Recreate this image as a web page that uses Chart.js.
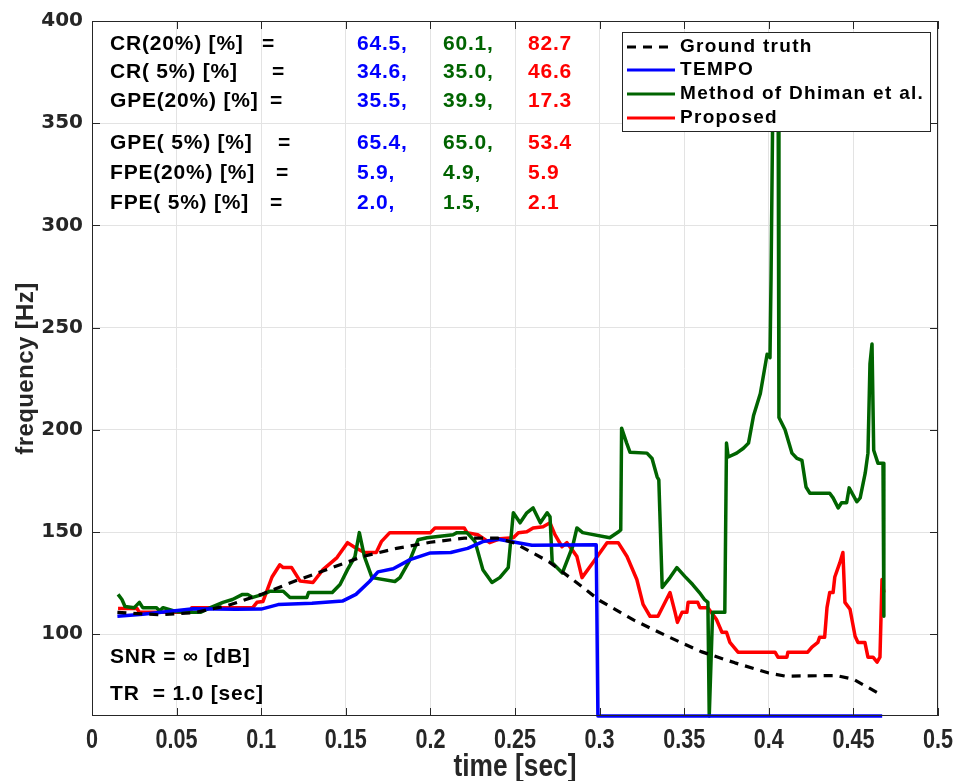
<!DOCTYPE html>
<html>
<head>
<meta charset="utf-8">
<script src="https://cdn.jsdelivr.net/npm/chart.js@4.4.0/dist/chart.umd.min.js"></script>
<style>
html, body { margin: 0; padding: 0; background: #fff; }
</style>
</head>
<body>
<canvas id="pitch" width="964" height="781"></canvas>
<script>
// axis ticks
var xTicks = [0, 0.05, 0.1, 0.15, 0.2, 0.25, 0.3, 0.35, 0.4, 0.45, 0.5];
var yTicks = [100, 150, 200, 250, 300, 350, 400];

// ground truth
var gtTime = [0.015, 0.04, 0.06, 0.08, 0.1, 0.12, 0.14, 0.16, 0.18, 0.2, 0.22, 0.24, 0.25, 0.27, 0.29, 0.3, 0.32, 0.34, 0.36, 0.38, 0.4, 0.41, 0.44, 0.45, 0.465];
var gtFreq = [110.7, 109.5, 110.5, 114, 119.5, 126, 132, 138, 142, 145, 147, 147, 144.5, 135.5, 123, 116.5, 107, 99, 91.5, 86, 81, 79.5, 79.8, 78, 71];

// TEMPO
var tempoTime = [0.015, 0.03, 0.06, 0.085, 0.1, 0.11, 0.13, 0.148, 0.156, 0.164, 0.169, 0.178, 0.188, 0.2, 0.212, 0.222, 0.231, 0.24, 0.25, 0.26, 0.298, 0.299, 0.467];
var tempoFreq = [108.8, 109.8, 112.5, 112.2, 112.3, 114.5, 115.2, 116.2, 119.5, 125.8, 130.5, 132, 136.5, 139.8, 140, 142, 145.3, 146.5, 145, 143.5, 143.8, 60, 60];

// Method of Dhiman et al.
var dhimanTime = [0.0154, 0.0177, 0.0195, 0.025, 0.028, 0.03, 0.038, 0.04, 0.042, 0.05, 0.058, 0.064, 0.07, 0.0774, 0.083, 0.089, 0.092, 0.095, 0.101, 0.105, 0.113, 0.117, 0.127, 0.128, 0.142, 0.1466, 0.151, 0.1554, 0.158, 0.161, 0.1655, 0.179, 0.182, 0.188, 0.1927, 0.198, 0.2134, 0.2157, 0.2216, 0.2264, 0.231, 0.2364, 0.241, 0.246, 0.249, 0.253, 0.257, 0.2607, 0.265, 0.269, 0.2707, 0.272, 0.278, 0.284, 0.2866, 0.29, 0.306, 0.311, 0.3125, 0.313, 0.316, 0.318, 0.328, 0.331, 0.334, 0.335, 0.337, 0.3416, 0.3457, 0.3505, 0.355, 0.359, 0.362, 0.364, 0.3648, 0.3668, 0.374, 0.375, 0.376, 0.381, 0.385, 0.388, 0.391, 0.395, 0.399, 0.4007, 0.4013, 0.4025, 0.4055, 0.406, 0.4096, 0.4137, 0.4167, 0.4196, 0.422, 0.4243, 0.436, 0.438, 0.441, 0.443, 0.446, 0.4475, 0.452, 0.454, 0.457, 0.4586, 0.4598, 0.461, 0.462, 0.4645, 0.4675, 0.468];
var dhimanFreq = [119.5, 117, 113.6, 113, 115.6, 113, 113, 111.5, 113, 111, 110.7, 110.7, 113, 115.6, 117, 119.5, 119.5, 118, 119.5, 121, 121, 118, 118, 120.4, 120.4, 124.3, 131.6, 138, 149.7, 138, 127.7, 125.8, 127.7, 136.5, 146.2, 147.2, 148.7, 149.7, 149.7, 145.3, 131.6, 125.3, 127.7, 132.6, 159.4, 154.5, 159.4, 161.8, 154.5, 159.4, 157.5, 135, 130, 142.8, 152, 149.7, 147.2, 150, 151, 200.8, 193.5, 189, 188.6, 186, 177, 175.5, 122.9, 127.7, 132.6, 128.2, 124.3, 120.4, 117, 115.6, 60, 110.7, 110.7, 193.5, 186.7, 188.6, 191, 193.5, 207, 217.8, 237, 235.3, 272.8, 370, 370, 206, 200, 188.6, 186, 185, 172, 169, 169, 166.7, 161.8, 164.3, 164.3, 171.6, 164.8, 166.7, 178.9, 188.6, 232.4, 242, 190, 183.7, 183.7, 108.8];

// Proposed
var propTime = [0.0154, 0.0266, 0.028, 0.058, 0.059, 0.095, 0.0975, 0.101, 0.1064, 0.111, 0.113, 0.118, 0.123, 0.1306, 0.1365, 0.1448, 0.151, 0.1554, 0.161, 0.168, 0.171, 0.176, 0.2, 0.2027, 0.22, 0.2216, 0.228, 0.235, 0.241, 0.249, 0.252, 0.257, 0.2607, 0.2666, 0.2707, 0.2736, 0.2778, 0.2807, 0.2837, 0.2866, 0.2896, 0.296, 0.3044, 0.311, 0.3162, 0.322, 0.3257, 0.3298, 0.3345, 0.3416, 0.3446, 0.346, 0.3487, 0.3516, 0.3523, 0.358, 0.3593, 0.364, 0.369, 0.3723, 0.375, 0.377, 0.3818, 0.4037, 0.4054, 0.4107, 0.4113, 0.423, 0.4255, 0.429, 0.43, 0.433, 0.4344, 0.436, 0.438, 0.439, 0.442, 0.4438, 0.445, 0.448, 0.451, 0.4527, 0.4568, 0.4586, 0.4616, 0.464, 0.4657, 0.4669, 0.468];
var propFreq = [112.6, 112.6, 110.7, 110.7, 113, 113, 115.6, 116, 128, 134, 132.6, 132.6, 126, 125.3, 131.6, 137.5, 144.8, 142.4, 140, 140, 145.3, 149.7, 149.7, 152, 152, 149.7, 148.7, 144.8, 146.7, 147.2, 149.7, 150.1, 152, 152.6, 154.5, 148.7, 142.8, 144.8, 141.4, 138, 127.7, 135, 144.8, 144.8, 138, 126.8, 114.6, 108.8, 108.8, 120.4, 110.7, 105.8, 110.7, 110.7, 115.6, 115.6, 113, 113, 107.3, 101, 101, 96, 91.2, 91.2, 88.8, 88.8, 91.2, 91.2, 93.7, 96, 98.5, 98.5, 113, 120.4, 120.4, 128, 135, 140, 115.6, 112.2, 99, 96, 96, 88.8, 88.8, 86.4, 88.8, 126.8, 120.4];

// scores printed on the plot
var statLabels = ['CR(20%) [%]', 'CR( 5%) [%]', 'GPE(20%) [%]', 'GPE( 5%) [%]', 'FPE(20%) [%]', 'FPE( 5%) [%]'];
var tempoStats = [64.5, 34.6, 35.5, 65.4, 5.9, 2.0];
var dhimanStats = [60.1, 35.0, 39.9, 65.0, 4.9, 1.5];
var propStats = [82.7, 46.6, 17.3, 53.4, 5.9, 2.1];

function pts(t, f) {
    return t.map(function (v, i) { return { x: v, y: f[i] }; });
}

var dark = '#262626';
var sans = '"Liberation Sans", Arial, sans-serif';

var overlay = {
    id: 'overlay',
    afterDraw: function (chart) {
        var c = chart.ctx;
        var a = chart.chartArea;
        var xs = chart.scales.x, ys = chart.scales.y;
        c.save();

        // box and inward ticks
        c.strokeStyle = dark;
        c.lineWidth = 1;
        c.strokeRect(a.left + 0.5, a.top + 0.5, a.right - a.left - 1, a.bottom - a.top - 1);
        c.beginPath();
        xTicks.forEach(function (t) {
            var px = Math.round(xs.getPixelForValue(t)) + 0.5;
            c.moveTo(px, a.bottom); c.lineTo(px, a.bottom - 8);
            c.moveTo(px, a.top); c.lineTo(px, a.top + 8);
        });
        yTicks.forEach(function (t) {
            var py = Math.round(ys.getPixelForValue(t)) + 0.5;
            c.moveTo(a.left, py); c.lineTo(a.left + 8, py);
            c.moveTo(a.right, py); c.lineTo(a.right - 8, py);
        });
        c.stroke();

        // x tick labels, condensed like the original
        c.fillStyle = dark;
        c.textAlign = 'center';
        c.textBaseline = 'middle';
        c.font = 'bold 27px ' + sans;
        xTicks.forEach(function (t) {
            var px = xs.getPixelForValue(t);
            c.save();
            c.translate(px, 741);
            c.scale(0.8, 1);
            c.fillText(String(t), 0, 0);
            c.restore();
        });

        // score table
        var rowY = [44, 72, 101, 143, 173, 203];
        var eqX = [262, 272, 270, 278, 276, 270];
        c.font = 'bold 21px ' + sans;
        c.letterSpacing = '0.8px';
        c.textAlign = 'left';
        statLabels.forEach(function (lab, i) {
            c.fillStyle = '#000';
            c.fillText(lab, 110, rowY[i]);
            c.fillText('=', eqX[i], rowY[i]);
            c.fillStyle = '#0000ff';
            c.fillText(tempoStats[i].toFixed(1) + ',', 357, rowY[i]);
            c.fillStyle = '#006400';
            c.fillText(dhimanStats[i].toFixed(1) + ',', 443, rowY[i]);
            c.fillStyle = '#ff0000';
            c.fillText(propStats[i].toFixed(1), 528, rowY[i]);
        });
        c.fillStyle = '#000';
        c.fillText('SNR = \u221e [dB]', 110, 657);
        c.fillText('TR  = 1.0 [sec]', 110, 694);

        // legend
        c.fillStyle = '#fff';
        c.fillRect(622, 32, 308, 99);
        c.strokeStyle = dark;
        c.lineWidth = 1;
        c.strokeRect(622.5, 32.5, 308, 99);
        var legY = [47, 70, 94, 118];
        c.font = 'bold 19px ' + sans;
        c.letterSpacing = '1.3px';
        chart.data.datasets.forEach(function (ds, i) {
            c.beginPath();
            c.strokeStyle = ds.borderColor;
            c.lineWidth = 3;
            c.setLineDash(ds.borderDash || []);
            c.moveTo(627, legY[i]); c.lineTo(675, legY[i]);
            c.stroke();
            c.setLineDash([]);
            c.fillStyle = '#000';
            c.fillText(ds.label, 680, legY[i]);
        });

        // axis titles
        c.letterSpacing = '0px';
        c.fillStyle = dark;
        c.textAlign = 'center';
        c.font = 'bold 31px ' + sans;
        c.save();
        c.translate((a.left + a.right) / 2, 767);
        c.scale(0.85, 1);
        c.fillText('time [sec]', 0, 0);
        c.restore();
        c.save();
        c.translate(26, (a.top + a.bottom) / 2);
        c.rotate(-Math.PI / 2);
        c.font = 'bold 24px ' + sans;
        c.letterSpacing = '0.4px';
        c.fillText('frequency [Hz]', 0, 0);
        c.restore();

        c.restore();
    }
};

var ctx = document.getElementById('pitch').getContext('2d');
var chart = new Chart(ctx, {
    type: 'line',
    data: {
        datasets: [{
            label: 'Ground truth',
            data: pts(gtTime, gtFreq),
            borderColor: '#000000',
            borderDash: [9, 7],
            borderWidth: 3.2
        }, {
            label: 'TEMPO',
            data: pts(tempoTime, tempoFreq),
            borderColor: '#0000ff',
            borderWidth: 3.5,
            clip: false
        }, {
            label: 'Method of Dhiman et al.',
            data: pts(dhimanTime, dhimanFreq),
            borderColor: '#006400',
            borderWidth: 3.5,
            clip: { left: 2, top: 0, right: 2, bottom: 2 }
        }, {
            label: 'Proposed',
            data: pts(propTime, propFreq),
            borderColor: '#ff0000',
            borderWidth: 3.5
        }]
    },
    options: {
        responsive: false,
        animation: false,
        elements: { point: { radius: 0 }, line: { tension: 0, borderJoinStyle: 'round' } },
        layout: { padding: { left: 0, top: 19, right: 26, bottom: 0 } },
        plugins: { legend: { display: false }, tooltip: { enabled: false } },
        scales: {
            x: {
                type: 'linear',
                min: 0,
                max: 0.5,
                afterBuildTicks: function (s) { s.ticks = xTicks.map(function (v) { return { value: v }; }); },
                afterFit: function (s) { s.height = 65; s.paddingLeft = 0; s.paddingRight = 0; },
                grid: { color: '#e3e3e3', drawTicks: false },
                border: { display: false },
                ticks: { display: false }
            },
            y: {
                type: 'linear',
                min: 60,
                max: 400,
                afterBuildTicks: function (s) { s.ticks = yTicks.map(function (v) { return { value: v }; }); },
                afterFit: function (s) { s.width = 92; },
                grid: { color: '#e3e3e3', drawTicks: false },
                border: { display: false },
                ticks: {
                    padding: 9,
                    color: dark,
                    font: { family: '"DejaVu Sans", sans-serif', size: 20, weight: 'bold' }
                }
            }
        }
    },
    plugins: [overlay]
});
</script>
</body>
</html>
